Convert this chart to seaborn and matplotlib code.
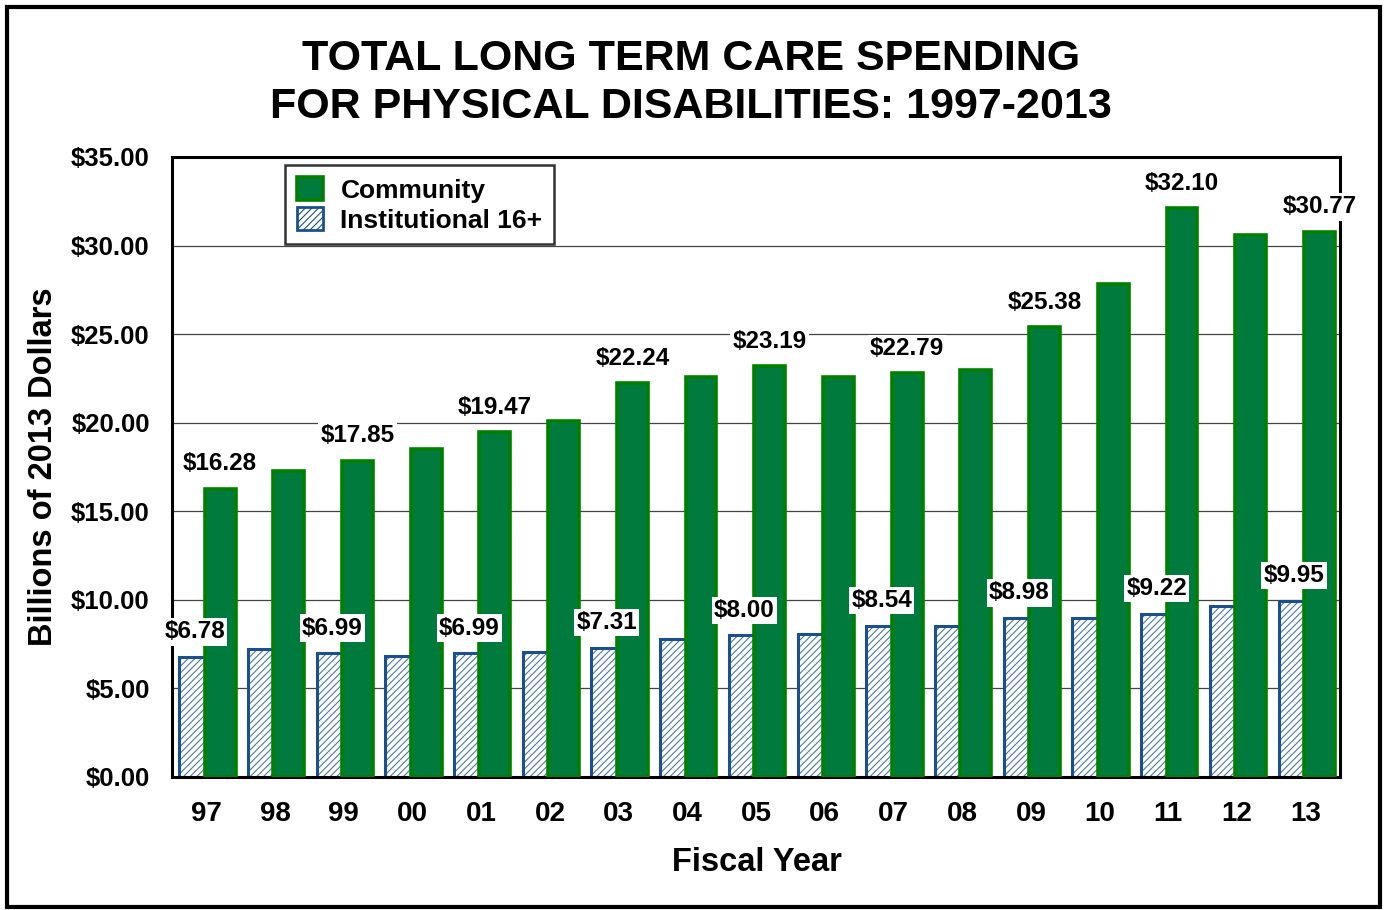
import numpy as np
import pandas as pd
import seaborn as sns
import matplotlib.pyplot as plt
from matplotlib.patches import Rectangle

years = ['97', '98', '99', '00', '01', '02', '03', '04', '05',
         '06', '07', '08', '09', '10', '11', '12', '13']
community = [16.28, 17.30, 17.85, 18.50, 19.47, 20.10, 22.24, 22.60, 23.19,
             22.60, 22.79, 22.95, 25.38, 27.85, 32.10, 30.60, 30.77]
institutional = [6.78, 7.20, 6.99, 6.82, 6.99, 7.05, 7.31, 7.80, 8.00,
                 8.05, 8.54, 8.50, 8.98, 8.95, 9.22, 9.65, 9.95]
yticks = [0, 5, 10, 15, 20, 25, 30, 35]

sns.set_style('white')
plt.rcParams['font.family'] = ['Liberation Sans', 'DejaVu Sans']
plt.rcParams['font.weight'] = 'bold'
plt.rcParams['hatch.linewidth'] = 0.8
for k in ['text.color', 'axes.labelcolor', 'xtick.color', 'ytick.color']:
    plt.rcParams[k] = 'black'

GREEN = '#007a3d'
GREEN_EDGE = '#008000'
BLUE = '#1c4f8f'

pos = np.arange(len(years))
df = pd.DataFrame({'pos': pos, 'community': community, 'institutional': institutional})

fig = plt.figure(figsize=(13.84, 9.10), dpi=100)
ax = fig.add_axes([172 / 1384, 1 - 777 / 910, 1168 / 1384, 620 / 910])

# institutional bars sit behind, green community bars overlap on the right
sns.barplot(x=df['pos'] - 0.17, y=df['institutional'], native_scale=True, width=0.45,
            color='white', edgecolor='#4a78b0', linewidth=0, hatch='/////',
            ax=ax, zorder=2)
# dark outline drawn over the hatched fill
sns.barplot(x=df['pos'] - 0.17, y=df['institutional'], native_scale=True, width=0.45,
            fill=False, edgecolor=BLUE, linewidth=2.2, ax=ax, zorder=2.5)
sns.barplot(x=df['pos'] + 0.2, y=df['community'], native_scale=True, width=0.45,
            color=GREEN, saturation=1, edgecolor=GREEN_EDGE, linewidth=2.6,
            label='Community', ax=ax, zorder=3)

# value labels on every other year
for i in range(0, len(years), 2):
    ax.annotate(f'${community[i]:.2f}', (pos[i] + 0.2, community[i]), xytext=(0, 18),
                textcoords='offset points', ha='center', va='center', fontsize=17.5,
                fontweight='bold', zorder=5,
                bbox=dict(facecolor='white', edgecolor='none', pad=1.5))
    ax.annotate(f'${institutional[i]:.2f}', (pos[i] - 0.17, institutional[i]), xytext=(0, 18),
                textcoords='offset points', ha='center', va='center', fontsize=17.5,
                fontweight='bold', zorder=5,
                bbox=dict(facecolor='white', edgecolor='none', pad=1.5))

ax.set_xlim(-0.5, len(years) - 0.5)
ax.set_ylim(0, 35)
ax.set_yticks(yticks)
ax.set_yticklabels([f'${v:.2f}' for v in yticks])
ax.set_xticks(pos)
ax.set_xticklabels(years)
ax.set_xticks(np.arange(-0.5, len(years), 1), minor=True)
ax.tick_params(axis='both', which='major', length=0)
ax.tick_params(axis='y', labelsize=18.5, pad=16)
ax.tick_params(axis='x', labelsize=20, pad=17)
ax.tick_params(axis='x', which='minor', direction='in', length=6, width=1, color='black')
ax.grid(axis='y', color='#444444', linewidth=0.9)
ax.set_axisbelow(True)
for s in ax.spines.values():
    s.set_color('black')
    s.set_linewidth(2.2)

ax.set_xlabel('Fiscal Year', fontsize=23.5, fontweight='bold')
ax.set_ylabel('Billions of 2013 Dollars', fontsize=23.5, fontweight='bold')
ax.xaxis.set_label_coords((757 - 172) / 1168, -(847 - 777) / 620)
ax.yaxis.set_label_coords((59 - 172) / 1168, 0.5)

# legend: green patch plus a hatched patch with the dark outline
inst_handle = Rectangle((0, 0), 1, 1, facecolor='white', edgecolor=BLUE,
                        hatch='/////', linewidth=2)
green_handle = [p for p in ax.get_legend_handles_labels()[0]][0]
leg = ax.legend([green_handle, inst_handle], ['Community', 'Institutional 16+'],
                loc='upper left',
                bbox_to_anchor=((285 - 172) / 1168, (777 - 165) / 620),
                fontsize=19, frameon=True, fancybox=False, edgecolor='black',
                handlelength=1.0, handleheight=1.0, handletextpad=0.65,
                borderpad=0.45, labelspacing=0.15, borderaxespad=0)
leg.get_frame().set_linewidth(1.8)
for t in leg.get_texts():
    t.set_fontweight('bold')

fig.text(691 / 1384, 1 - 59 / 910, 'TOTAL LONG TERM CARE SPENDING', ha='center', va='center',
         fontsize=31, fontweight='bold')
fig.text(691 / 1384, 1 - 107 / 910, 'FOR PHYSICAL DISABILITIES: 1997-2013', ha='center',
         va='center', fontsize=31, fontweight='bold')

fig.patches.append(Rectangle((7 / 1384, 3 / 910), 1373 / 1384, 900 / 910,
                             transform=fig.transFigure, fill=False, edgecolor='black',
                             linewidth=3))

fig.savefig('out.png', dpi=100)
